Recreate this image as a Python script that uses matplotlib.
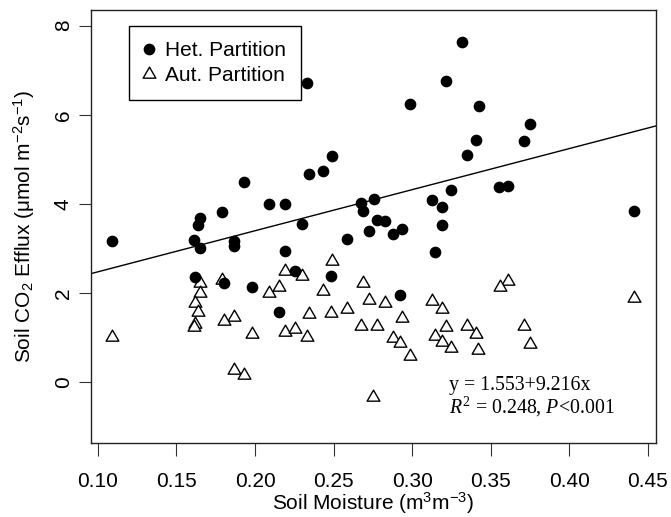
import numpy as np
import matplotlib
matplotlib.use('Agg')
import matplotlib.pyplot as plt
from matplotlib.path import Path
from matplotlib.lines import Line2D

plt.rcParams['font.family'] = ['Liberation Sans', 'DejaVu Sans']
plt.rcParams['mathtext.fontset'] = 'custom'
plt.rcParams['mathtext.rm'] = 'Liberation Sans'
plt.rcParams['mathtext.it'] = 'Liberation Serif:italic'

# heterotrophic partition (filled circles)
het_x = [0.1087, 0.1611, 0.1650, 0.1639, 0.1650, 0.1620, 0.1790, 0.1801, 0.1868, 0.1868,
         0.1981, 0.2151, 0.2193, 0.2091, 0.2191, 0.1930, 0.2333, 0.3317, 0.3217, 0.2987,
         0.3427, 0.3408, 0.3348, 0.2492, 0.2344, 0.2431, 0.2675, 0.2686, 0.2754, 0.3127,
         0.3187, 0.3246, 0.2775, 0.2828, 0.3747, 0.3709, 0.3556, 0.3610, 0.4414, 0.2302,
         0.2584, 0.2724, 0.2881, 0.2936, 0.3187, 0.3146, 0.2253, 0.2484, 0.2924]
het_y = [3.17, 3.19, 3.69, 3.52, 3.02, 2.35, 3.81, 2.22, 3.17, 3.05,
         2.14, 1.57, 2.94, 3.99, 3.99, 4.49, 6.72, 7.63, 6.75, 6.23,
         6.19, 5.43, 5.10, 5.08, 4.68, 4.74, 4.01, 3.84, 4.11, 4.08,
         3.92, 4.31, 3.63, 3.62, 5.78, 5.40, 4.37, 4.40, 3.85, 3.54,
         3.20, 3.39, 3.32, 3.43, 3.53, 2.92, 2.50, 2.38, 1.95]

# autotrophic partition (open triangles)
aut_x = [0.1087, 0.1650, 0.1650, 0.1620, 0.1639, 0.1620, 0.1611, 0.1790, 0.1868, 0.1801,
         0.1981, 0.2091, 0.2151, 0.2191, 0.2191, 0.1868, 0.1930, 0.2492, 0.2302, 0.2435,
         0.2686, 0.2724, 0.2826, 0.2584, 0.2484, 0.2344, 0.3127, 0.3187, 0.2936, 0.2673,
         0.2775, 0.2253, 0.2333, 0.2881, 0.2924, 0.2985, 0.3146, 0.3187, 0.3217, 0.3246,
         0.3348, 0.3408, 0.3422, 0.2752, 0.3613, 0.3561, 0.4414, 0.3709, 0.3747]
aut_y = [1.02, 2.22, 1.99, 1.77, 1.57, 1.31, 1.24, 2.29, 1.46, 1.37,
         1.08, 2.01, 2.13, 2.49, 1.13, 0.28, 0.15, 2.72, 2.39, 2.04,
         2.22, 1.84, 1.77, 1.64, 1.56, 1.53, 1.83, 1.64, 1.43, 1.26,
         1.26, 1.19, 1.01, 1.00, 0.87, 0.59, 1.04, 0.91, 1.24, 0.76,
         1.26, 1.08, 0.72, -0.34, 2.27, 2.14, 1.88, 1.26, 0.86]

# fitted line for het partition
intercept = 1.553
slope = 9.216

x_ticks = [0.10, 0.15, 0.20, 0.25, 0.30, 0.35, 0.40, 0.45]
y_ticks = [0, 2, 4, 6, 8]

# R-like open triangle (equilateral, centred on centroid)
tri = Path([(0, 1), (-0.866, -0.5), (0.866, -0.5), (0, 1)],
           [Path.MOVETO, Path.LINETO, Path.LINETO, Path.CLOSEPOLY])

fig = plt.figure(figsize=(6.71, 5.17), dpi=100)
ax = fig.add_axes([0.1352, 0.1437, 0.8424, 0.8379])

xl = (0.0954, 0.4552)
ax.plot(xl, [intercept + slope * v for v in xl], color='black', lw=1.0, zorder=1)
ax.plot(het_x, het_y, 'o', ms=7.4, color='black', mec='black', ls='none', zorder=3)
ax.plot(aut_x, aut_y, marker=tri, ms=10.6, mfc='white', mec='black', mew=1.0,
        ls='none', zorder=2)

ax.set_xlim(*xl)
ax.set_ylim(-1.36, 8.36)
ax.set_xticks(x_ticks)
ax.set_xticklabels(['%.2f' % v for v in x_ticks])
ax.set_yticks(y_ticks)
ax.tick_params(axis='both', direction='out', length=9, width=0.8, labelsize=15,
               color='#333333')
ax.tick_params(axis='x', pad=12)
ax.tick_params(axis='y', pad=4)
for lbl in ax.get_yticklabels():
    lbl.set_rotation(90)
    lbl.set_va('center')
for s in ax.spines.values():
    s.set_linewidth(1.0)
    s.set_color('#222222')

ax.set_xlabel(r'Soil Moisture (m$^{\mathregular{3}}$m$^{\mathregular{-3}}$)', fontsize=15)
ax.xaxis.set_label_coords(0.5, -0.155)
ax.xaxis.label.set_va('baseline')
ax.set_ylabel(r'Soil CO$_{\mathregular{2}}$ Efflux ($\mathregular{\mu}$mol m$^{\mathregular{-2}}$s$^{\mathregular{-1}}$)',
              fontsize=15)
ax.yaxis.set_label_coords(-0.1067, 0.5)
ax.yaxis.label.set_va('baseline')

handles = [Line2D([], [], marker='o', ms=7.4, color='black', ls='none'),
           Line2D([], [], marker=tri, ms=10.6, mfc='white', mec='black', mew=1.0, ls='none')]
leg = ax.legend(handles, ['Het. Partition', 'Aut. Partition'], loc='upper left',
                bbox_to_anchor=(0.0683, 0.962), borderaxespad=0, fontsize=15,
                fancybox=False, framealpha=1, edgecolor='black', borderpad=0.72,
                labelspacing=0.3, handlelength=0.45, handletextpad=0.55)
leg.get_frame().set_linewidth(1.0)

ax.text(0.3235, -0.17, 'y = 1.553+9.216x', family='Liberation Serif', fontsize=14.3,
        va='baseline', ha='left')
ax.text(0.3235, -0.71, r'$\mathit{R}^{\mathregular{2}}$ = 0.248, $\mathit{P}$<0.001',
        family='Liberation Serif', fontsize=14.3, va='baseline', ha='left')

fig.savefig('out.png', dpi=100)
